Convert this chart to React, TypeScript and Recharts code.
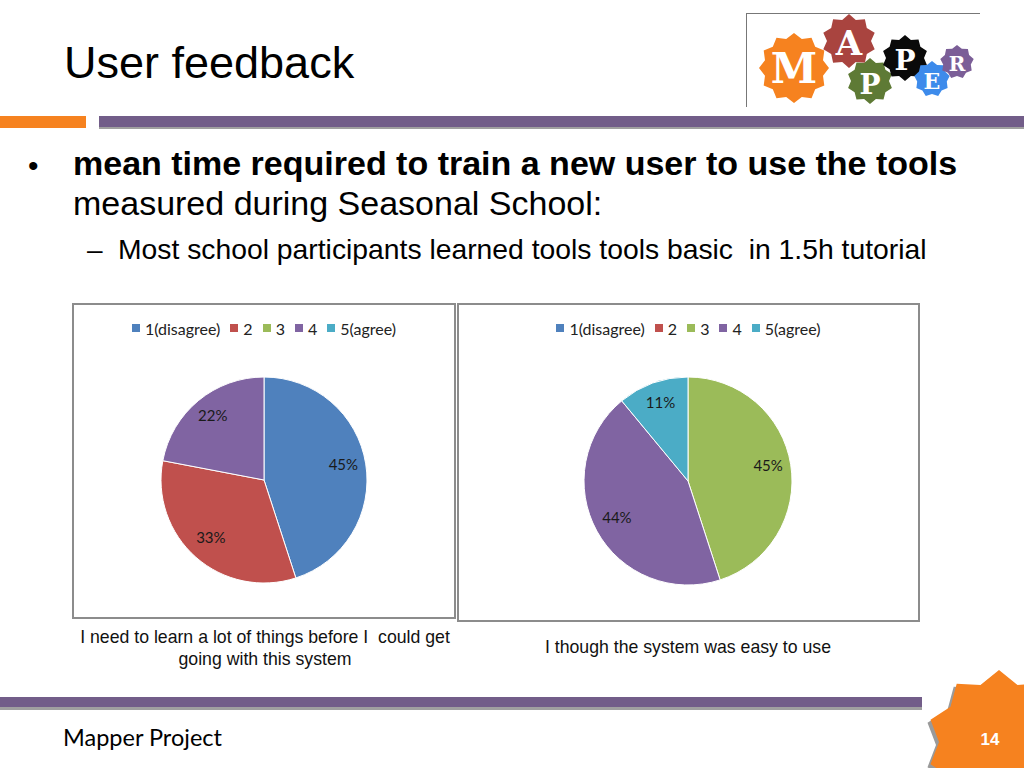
import React from 'react';
import { PieChart, Pie, Cell, Legend } from 'recharts';

const categories = ['1(disagree)', '2', '3', '4', '5(agree)'];
const sliceColors = ['#4F81BD', '#C0504D', '#9BBB59', '#8064A2', '#4BACC6'];
const learnValues = [45, 33, 0, 22, 0];
const easyValues = [0, 0, 45, 44, 11];

const learnData = categories.map((name, i) => ({ name, value: learnValues[i] }));
const easyData = categories.map((name, i) => ({ name, value: easyValues[i] }));

const RAD = Math.PI / 180;
const chartFont = 'Lato, "Open Sans", sans-serif';
const LEGEND_H = 20;

function starPoints(cx: number, cy: number, ro: number, ri: number, n: number, rot = 0) {
  const pts: string[] = [];
  for (let i = 0; i < n * 2; i++) {
    const r = i % 2 === 0 ? ro : ri;
    const a = (rot - 90 + (i * 180) / n) * RAD;
    pts.push(`${(cx + r * Math.cos(a)).toFixed(1)},${(cy + r * Math.sin(a)).toFixed(1)}`);
  }
  return pts.join(' ');
}

const renderLabel = (p: any) => {
  if (!p.value) return null;
  const r = p.outerRadius * 0.78;
  const x = p.cx + r * Math.cos(-p.midAngle * RAD);
  const y = p.cy + r * Math.sin(-p.midAngle * RAD) - 3;
  return (
    <text x={x} y={y} textAnchor="middle" dominantBaseline="central" fontSize={15} fill="#1a1a1a" fontFamily={chartFont}>
      {`${p.value}%`}
    </text>
  );
};

const LegendContent = () => (
  <div style={{ display: 'flex', justifyContent: 'center', alignItems: 'center', gap: 10, height: LEGEND_H, fontFamily: chartFont, fontSize: 16, color: '#222' }}>
    {categories.map((c, i) => (
      <span key={c} style={{ display: 'inline-flex', alignItems: 'center' }}>
        <span style={{ display: 'inline-block', width: 8, height: 8, background: sliceColors[i], marginRight: 5 }} />
        {c}
      </span>
    ))}
  </div>
);

function FeedbackPie({ data, w, h, cx, cy, r }: { data: any[]; w: number; h: number; cx: number; cy: number; r: number }) {
  return (
    <PieChart width={w} height={h} margin={{ top: 0, right: 0, bottom: 0, left: 0 }}>
      <Legend verticalAlign="top" height={LEGEND_H} content={<LegendContent />} wrapperStyle={{ top: 15, left: 0, width: w }} />
      <Pie
        data={data}
        dataKey="value"
        nameKey="name"
        cx={cx}
        cy={cy - LEGEND_H}
        outerRadius={r}
        startAngle={90}
        endAngle={-270}
        stroke="#ffffff"
        strokeWidth={1}
        label={renderLabel}
        labelLine={false}
        isAnimationActive={false}
      >
        {data.map((d, i) => (
          <Cell key={d.name} fill={sliceColors[i]} />
        ))}
      </Pie>
    </PieChart>
  );
}

export default function App() {
  const arial = '"Liberation Sans", Arial, sans-serif';
  return (
    <div style={{ position: 'absolute', left: 0, top: 0, width: 1024, height: 768, background: '#fff', overflow: 'hidden' }}>
      <svg width={1024} height={768} style={{ position: 'absolute', left: 0, top: 0 }}>
        {/* title */}
        <text x={64} y={78} fontFamily={arial} fontSize={45} fill="#000">User feedback</text>
        {/* logo */}
        <line x1={746} y1={13.5} x2={980} y2={13.5} stroke="#777" strokeWidth={1} />
        <line x1={746.5} y1={13} x2={746.5} y2={107} stroke="#777" strokeWidth={1} />
        <polygon points={starPoints(794, 68, 35, 30, 12)} fill="#F6821F" />
        <polygon points={starPoints(849, 41, 27, 22, 10)} fill="#A9443F" />
        <polygon points={starPoints(870, 81, 23, 19, 10)} fill="#5E7A35" />
        <polygon points={starPoints(905, 58, 23, 19, 10)} fill="#0A0A0A" />
        <polygon points={starPoints(932, 79, 18, 15, 9)} fill="#3D8BEB" />
        <polygon points={starPoints(957, 62, 17, 14, 9)} fill="#7B5E97" />
        <g fontFamily='"DejaVu Serif", serif' fontWeight="bold" fill="#fff" textAnchor="middle">
          <text x={794} y={83} fontSize={42}>M</text>
          <text x={849} y={55} fontSize={34}>A</text>
          <text x={870} y={94} fontSize={28}>P</text>
          <text x={905} y={70} fontSize={28}>P</text>
          <text x={932} y={89} fontSize={22}>E</text>
          <text x={957} y={71} fontSize={20}>R</text>
        </g>
        {/* top bars */}
        <rect x={0} y={116} width={86} height={12} fill="#F6821F" />
        <rect x={99} y={119} width={925} height={10} fill="#A0A0A0" />
        <rect x={99} y={116} width={925} height={11} fill="#725D89" />
        {/* bullets */}
        <text x={28} y={176} fontFamily={arial} fontSize={30} fill="#000">•</text>
        <text x={73} y={175} fontFamily={arial} fontSize={34} fontWeight="bold" fill="#000">mean time required to train a new user to use the tools</text>
        <text x={73} y={215} fontFamily={arial} fontSize={34} fill="#000">measured during Seasonal School:</text>
        <text x={87} y={259} fontFamily={arial} fontSize={28} fill="#000">–</text>
        <text x={118} y={259} fontFamily={arial} fontSize={28.3} fill="#000">{'Most school participants learned tools tools basic\u00a0 in 1.5h tutorial'}</text>
        {/* chart frames */}
        <rect x={73} y={304} width={382} height={314} fill="#fff" stroke="#8C8C8C" strokeWidth={2} />
        <rect x={458} y={304} width={461} height={317} fill="#fff" stroke="#8C8C8C" strokeWidth={2} />
        {/* captions */}
        <g fontFamily={arial} fontSize={17.7} fill="#111" textAnchor="middle">
          <text x={265} y={643}>{'I need to learn a lot of things before I\u00a0 could get'}</text>
          <text x={265} y={665}>going with this system</text>
          <text x={688} y={653}>I though the system was easy to use</text>
        </g>
        {/* bottom bar */}
        <rect x={0} y={700} width={922} height={10} fill="#A0A0A0" />
        <rect x={0} y={697} width={922} height={10} fill="#725D89" />
        <text x={63} y={746} fontFamily={chartFont} fontSize={23.5} fill="#000">Mapper Project</text>
        {/* page number star */}
        <polygon points={starPoints(999, 742, 72, 60, 10)} fill="#9A9A9A" transform="translate(-3,3)" />
        <polygon points={starPoints(999, 742, 72, 60, 10)} fill="#F6821F" />
        <text x={990} y={745} textAnchor="middle" fontFamily={arial} fontWeight="bold" fontSize={17} fill="#fff">14</text>
      </svg>
      <div style={{ position: 'absolute', left: 72, top: 303 }}>
        <FeedbackPie data={learnData} w={384} h={316} cx={192} cy={177} r={103} />
      </div>
      <div style={{ position: 'absolute', left: 457, top: 303 }}>
        <FeedbackPie data={easyData} w={463} h={318} cx={231} cy={178} r={104} />
      </div>
    </div>
  );
}
